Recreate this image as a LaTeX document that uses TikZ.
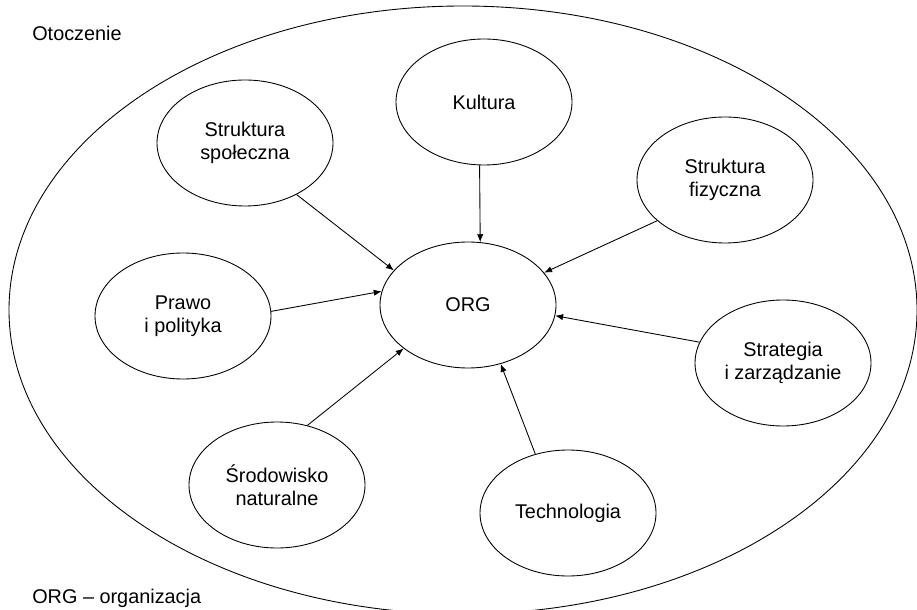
\documentclass[tikz,border=0pt]{standalone}
\usepackage{fontspec}
\setmainfont{Liberation Sans}
\usetikzlibrary{arrows.meta,shapes.geometric}

\begin{document}
\begin{tikzpicture}[line width=0.5pt,
       factor/.style={ellipse,draw,minimum width=3.52cm,minimum height=2.52cm,
         inner sep=0pt,align=center,font=\fontsize{11.3}{13}\selectfont},
       label/.style={anchor=west,font=\fontsize{11.3}{13}\selectfont},
       effect/.style={-{Latex[length=4.5pt,width=3.6pt]}}]
       \useasboundingbox (0,0) rectangle (18.34,12.18);
       % Draw the environment
       \draw (9.26,5.98) ellipse [x radius=9.08cm, y radius=6.08cm];
       \node[label] (otoczenie) at (0.52,11.52) {Otoczenie};
       \node[label] (legenda) at (0.52,0.22) {ORG -- organizacja};
       % Draw the organisation and its factors
       \node[factor] (org) at (9.36,6.08) {ORG};
       \node[factor] (kultura) at (9.68,10.14) {Kultura};
       \node[factor] (spoleczna) at (4.90,9.32) {Struktura\\społeczna};
       \node[factor] (fizyczna) at (14.50,8.58) {Struktura\\fizyczna};
       \node[factor] (prawo) at (3.66,5.86) {Prawo\\i polityka};
       \node[factor] (strategia) at (15.66,4.92) {Strategia\\i zarządzanie};
       \node[factor] (srodowisko) at (5.54,2.48) {Środowisko\\naturalne};
       \node[factor] (technologia) at (11.36,1.92) {Technologia};
       % Draw the influences
       \draw[effect] (kultura.266.4) -- (org.79.2);
       \draw[effect] (spoleczna.315) -- (org.155.6);
       \draw[effect] (fizyczna.211.7) -- (org.23.7);
       \draw[effect] (prawo.3.9) -- (org.171.4);
       \draw[effect] (strategia.166.9) -- (org.353.6);
       \draw[effect] (srodowisko.63.1) -- (org.214.9);
       \draw[effect] (technologia.119.7) -- (org.299.5);
   \end{tikzpicture}
\end{document}
